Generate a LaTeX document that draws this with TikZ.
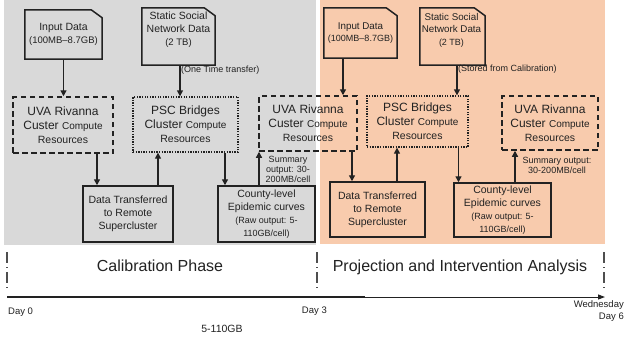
\documentclass[tikz,border=0pt]{standalone}
\usepackage{fontspec}
\setmainfont{Liberation Sans}
\usetikzlibrary{arrows.meta,calc}
\definecolor{bggray}{HTML}{D9D9D9}
\definecolor{bgpeach}{HTML}{F8CBAD}
\definecolor{ink}{HTML}{222222}
\newcommand\docoutline[1]{\draw[boxbase] (#1.south west) -- (#1.north west) -- ([xshift=-11pt]#1.north east) -- ([yshift=-8pt]#1.north east) -- (#1.south east) -- cycle;}
\begin{document}
\begin{tikzpicture}[x=1pt,y=-1pt,
  every node/.style={text=ink, align=center, inner sep=0pt},
  boxbase/.style={draw=ink, line width=1.5pt},
  solidbox/.style={boxbase, font=\fontsize{10.5}{13}\selectfont},
  uvabox/.style={boxbase, dash pattern=on 5.5pt off 3.5pt, font=\fontsize{12}{14}\selectfont},
  pscbox/.style={boxbase, line width=1.3pt, dash pattern=on 1.3pt off 1.3pt, font=\fontsize{12}{14}\selectfont},
  docnode/.style={font=\fontsize{10.5}{13}\selectfont},
  docsmall/.style={font=\fontsize{9.8}{12.5}\selectfont},
  arr/.style={draw=ink, line width=1.3pt, -{Triangle[length=6pt,width=6pt]}},
  note/.style={font=\fontsize{9}{10}\selectfont},
  phase/.style={font=\fontsize{16}{18}\selectfont},
  daylbl/.style={font=\fontsize{9.5}{12}\selectfont},
  tick/.style={draw=ink!80, line width=1.2pt, dash pattern=on 11pt off 4pt on 1pt off 4pt}
]
\useasboundingbox (0,0) rectangle (625,341);
\fill[white] (0,0) rectangle (625,341);
% phase backgrounds
\fill[bggray] (4,0) rectangle (316,245);
\fill[bgpeach] (320,0) rectangle (605,244);

% ---------- calibration phase ----------
\node[docnode, minimum width=77pt, minimum height=49pt] (in1) at (63.5,34.5)
  {Input Data\\{\fontsize{9.5}{12}\selectfont(100MB--8.7GB)}};
\docoutline{in1}
\node[minimum width=73pt, minimum height=57pt] (st1) at (178.5,36.5) {};
\docoutline{st1}
\node[docnode] (st1t) at (178.5,30) {Static Social\\Network Data\\{\fontsize{9.5}{12}\selectfont(2 TB)}};

\node[uvabox, minimum width=100pt, minimum height=56pt] (uva1) at (63,125)
  {UVA Rivanna\\Custer {\fontsize{10}{14}\selectfont Compute}\\{\fontsize{10.5}{14}\selectfont Resources}};
\node[pscbox, minimum width=105pt, minimum height=55pt] (psc1) at (185.5,124.5)
  {PSC Bridges\\Cluster {\fontsize{10}{14}\selectfont Compute}\\{\fontsize{10.5}{14}\selectfont Resources}};
\node[uvabox, minimum width=98pt, minimum height=55pt] (uva2) at (308,123.5)
  {UVA Rivanna\\Custer {\fontsize{10}{14}\selectfont Compute}\\{\fontsize{10.5}{14}\selectfont Resources}};

\node[solidbox, minimum width=90pt, minimum height=56pt] (dt1) at (128,214)
  {Data Transferred\\to Remote\\Supercluster};
\node[solidbox, minimum width=97pt, minimum height=56pt] (cty1) at (266.5,214)
  {County-level\\Epidemic curves\\{\fontsize{9}{11.5}\selectfont (Raw output: 5-}\\{\fontsize{9}{11.5}\selectfont 110GB/cell)}};

% ---------- projection phase ----------
\node[docsmall, minimum width=73pt, minimum height=50pt] (in2) at (360.5,33)
  {Input Data\\{\fontsize{9}{12}\selectfont(100MB--8.7GB)}};
\docoutline{in2}
\node[minimum width=65pt, minimum height=57pt] (st2) at (452.5,36.5) {};
\docoutline{st2}
\node[docsmall] (st2t) at (451.5,30) {Static Social\\Network Data\\{\fontsize{9}{12}\selectfont(2 TB)}};

\node[pscbox, minimum width=101pt, minimum height=51pt] (psc2) at (417.5,121.5)
  {PSC Bridges\\Cluster {\fontsize{10}{14}\selectfont Compute}\\{\fontsize{10.5}{14}\selectfont Resources}};
\node[uvabox, minimum width=96pt, minimum height=54pt] (uva3) at (550,123)
  {UVA Rivanna\\Custer {\fontsize{10}{14}\selectfont Compute}\\{\fontsize{10.5}{14}\selectfont Resources}};

\node[solidbox, minimum width=95pt, minimum height=55pt] (dt2) at (377.5,209.5)
  {Data Transferred\\to Remote\\Supercluster};
\node[solidbox, minimum width=97pt, minimum height=54pt] (cty2) at (502.5,210)
  {County-level\\Epidemic curves\\{\fontsize{9}{11.5}\selectfont (Raw output: 5-}\\{\fontsize{9}{11.5}\selectfont 110GB/cell)}};

% arrow anchor points
\path (in1.south) coordinate (a1);
\path (st1.south) ++(1.5,0) coordinate (a2);
\path (uva1.south) ++(34,0) coordinate (a3);
\path (dt1.north) ++(30,0) coordinate (a4);
\path (psc1.south) ++(39.5,0) coordinate (a5);
\path (cty1.north) ++(-7.5,0) coordinate (a6);
\path (in2.south) ++(-17.5,0) coordinate (b1);
\path (st2.south) ++(4.5,0) coordinate (b2);
\path (uva2.south) ++(44,0) coordinate (b3);
\path (dt2.north) ++(19.5,0) coordinate (b4);
\path (psc2.south) ++(41,0) coordinate (b5);
\path (cty2.north) ++(12.5,0) coordinate (b6);

\draw[arr] (a1) -- (a1 |- uva1.north);
\draw[arr] (a2) -- (a2 |- psc1.north);
\draw[arr] (a3) -- (a3 |- dt1.north);
\draw[arr] (a4) -- (a4 |- psc1.south);
\draw[arr] (a5) -- (a5 |- cty1.north);
\draw[arr] (a6) -- (a6 |- uva2.south);
\draw[arr] (b1) -- (b1 |- uva2.north);
\draw[arr] (b2) -- (b2 |- psc2.north);
\draw[arr] (b3) -- (b3 |- dt2.north);
\draw[arr] (b4) -- (b4 |- psc2.south);
\draw[arr] (b5) -- (b5 |- cty2.north);
\draw[arr] (b6) -- (b6 |- uva3.south);

% notes
\node[note, anchor=west] (n1) at (181,70) {(One Time transfer)};
\node[note, anchor=west] (n2) at (458,69) {(Stored from Calibration)};
\node[note] (n3) at (288,169) {Summary\\output: 30-\\200MB/cell};
\node[note] (n4) at (557,165.5) {Summary output:\\30-200MB/cell};

% ---------- timeline ----------
\coordinate (t0) at (7,297);
\coordinate (t3) at (317,297);
\coordinate (t6) at (605,297);
\coordinate (tm) at (365,297);
\draw[tick] (7,252) -- (7,291);
\draw[tick] (317,252) -- (317,291);
\draw[tick] (604,252) -- (604,291);
\node[phase] (cal) at (160,266) {Calibration Phase};
\node[phase] (proj) at (460,267) {Projection and Intervention Analysis};
\draw[draw=ink, line width=1.8pt] (t0) -- (tm);
\draw[draw=ink, line width=1pt, -{Triangle[length=7pt,width=5pt]}] (t0) -- (t6);
\node[daylbl, anchor=west] (d0) at (8,312) {Day 0};
\node[daylbl, anchor=east] (d3) at (327,311) {Day 3};
\node[daylbl, anchor=east] (d6) at (624,311) {Wednesday\\\hfill Day 6};
\node[font=\fontsize{10.5}{12}\selectfont] (gb) at (222,329) {5-110GB};
\end{tikzpicture}
\end{document}
